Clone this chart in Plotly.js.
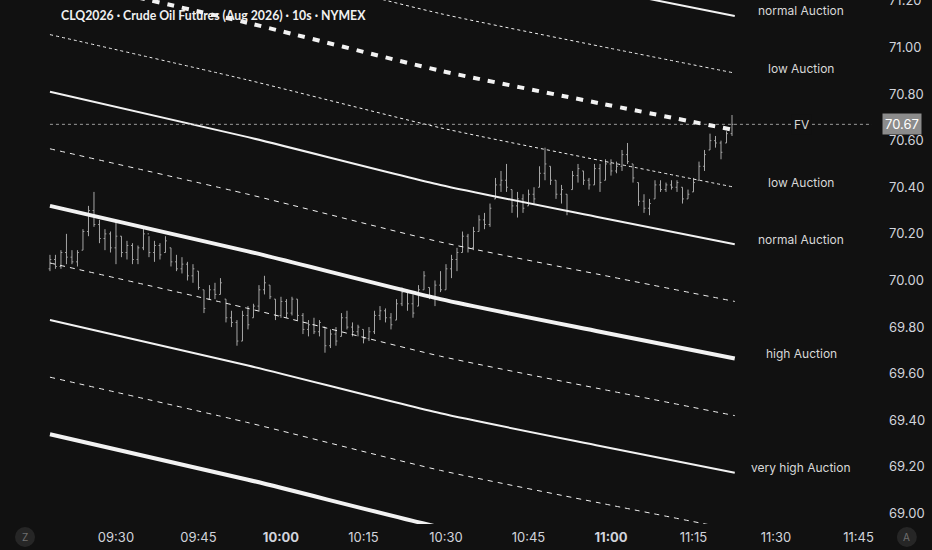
<!DOCTYPE html>
<html>
<head>
<meta charset="utf-8">
<script src="https://cdn.plot.ly/plotly-3.0.1.min.js"></script>
<style>
  html, body { margin: 0; padding: 0; background: #111111; }
  #chart { width: 932px; height: 550px; }
</style>
</head>
<body>
<div id="chart"></div>
<script>
const day = '2026-07-14 ';
const firstBar = '09:18';   // premiere barre affichee, barres d'une minute

const opens = [
  70.05, 70.09, 70.06, 70.12, 70.10, 70.08, 70.13, 70.21, 70.30, 70.24,
  70.18, 70.20, 70.14, 70.19, 70.12, 70.15, 70.09, 70.14, 70.20, 70.12,
  70.15, 70.12, 70.14, 70.08, 70.05, 70.07, 70.02, 70.04, 69.96, 69.92,
  69.96, 69.94, 69.92, 69.84, 69.82, 69.74, 69.85, 69.84, 69.89, 69.96,
  69.98, 69.92, 69.85, 69.91, 69.86, 69.92, 69.85, 69.79, 69.81, 69.78,
  69.80, 69.72, 69.77, 69.76, 69.84, 69.80, 69.78, 69.79, 69.75, 69.78,
  69.85, 69.87, 69.84, 69.83, 69.90, 69.95, 69.90, 69.89, 69.96, 69.97,
  69.93, 69.98, 69.96, 70.05, 70.09, 70.12, 70.19, 70.14, 70.21, 70.26,
  70.24, 70.35, 70.41, 70.43, 70.39, 70.32, 70.35, 70.32, 70.37, 70.40,
  70.46, 70.49, 70.43, 70.37, 70.37, 70.39, 70.45, 70.47, 70.43, 70.41,
  70.48, 70.43, 70.50, 70.47, 70.49, 70.54, 70.50, 70.42, 70.34, 70.31,
  70.35, 70.41, 70.39, 70.41, 70.40, 70.40, 70.35, 70.38, 70.43, 70.49,
  70.56, 70.60, 70.59, 70.59, 70.63
];
const highs = [
  70.11, 70.11, 70.13, 70.20, 70.13, 70.13, 70.22, 70.32, 70.38, 70.26,
  70.22, 70.21, 70.25, 70.19, 70.17, 70.16, 70.15, 70.23, 70.19, 70.17,
  70.16, 70.19, 70.14, 70.11, 70.10, 70.08, 70.07, 70.04, 69.96, 69.98,
  69.99, 70.01, 69.92, 69.87, 69.83, 69.87, 69.89, 69.90, 69.98, 70.02,
  69.98, 69.92, 69.93, 69.92, 69.93, 69.92, 69.86, 69.83, 69.84, 69.83,
  69.80, 69.79, 69.80, 69.86, 69.87, 69.82, 69.81, 69.79, 69.80, 69.87,
  69.89, 69.88, 69.86, 69.92, 69.97, 69.96, 69.94, 69.98, 70.04, 69.97,
  70.00, 70.04, 70.07, 70.11, 70.14, 70.21, 70.20, 70.23, 70.28, 70.29,
  70.33, 70.44, 70.47, 70.50, 70.39, 70.38, 70.37, 70.39, 70.40, 70.49,
  70.57, 70.49, 70.43, 70.41, 70.37, 70.47, 70.50, 70.47, 70.44, 70.50,
  70.50, 70.52, 70.52, 70.51, 70.56, 70.59, 70.50, 70.42, 70.37, 70.35,
  70.43, 70.43, 70.42, 70.43, 70.43, 70.40, 70.39, 70.44, 70.51, 70.56,
  70.63, 70.62, 70.60, 70.64, 70.71
];
const lows = [
  70.04, 70.05, 70.05, 70.07, 70.07, 70.06, 70.13, 70.19, 70.23, 70.16,
  70.13, 70.12, 70.07, 70.10, 70.09, 70.07, 70.07, 70.13, 70.10, 70.08,
  70.09, 70.12, 70.06, 70.04, 70.03, 70.00, 69.99, 69.96, 69.86, 69.92,
  69.92, 69.94, 69.82, 69.80, 69.72, 69.74, 69.79, 69.84, 69.87, 69.94,
  69.92, 69.83, 69.84, 69.84, 69.85, 69.83, 69.77, 69.76, 69.77, 69.76,
  69.69, 69.71, 69.72, 69.76, 69.79, 69.76, 69.76, 69.73, 69.74, 69.77,
  69.83, 69.82, 69.79, 69.83, 69.89, 69.87, 69.84, 69.89, 69.96, 69.92,
  69.89, 69.95, 69.96, 70.01, 70.04, 70.12, 70.12, 70.13, 70.21, 70.22,
  70.23, 70.35, 70.38, 70.38, 70.29, 70.27, 70.29, 70.32, 70.33, 70.40,
  70.43, 70.41, 70.35, 70.33, 70.28, 70.39, 70.42, 70.41, 70.39, 70.41,
  70.38, 70.43, 70.45, 70.46, 70.47, 70.50, 70.42, 70.32, 70.29, 70.28,
  70.35, 70.38, 70.38, 70.39, 70.38, 70.33, 70.35, 70.38, 70.43, 70.47,
  70.56, 70.57, 70.52, 70.59, 70.62
];
const closes = [
  70.09, 70.06, 70.12, 70.10, 70.08, 70.12, 70.21, 70.30, 70.24, 70.18,
  70.20, 70.14, 70.19, 70.12, 70.15, 70.09, 70.14, 70.20, 70.12, 70.15,
  70.11, 70.17, 70.08, 70.05, 70.07, 70.02, 70.05, 69.97, 69.88, 69.96,
  69.94, 69.99, 69.84, 69.82, 69.74, 69.85, 69.81, 69.89, 69.96, 69.99,
  69.93, 69.85, 69.91, 69.86, 69.92, 69.85, 69.79, 69.81, 69.78, 69.82,
  69.72, 69.77, 69.74, 69.84, 69.80, 69.78, 69.80, 69.75, 69.78, 69.85,
  69.87, 69.84, 69.81, 69.90, 69.95, 69.90, 69.86, 69.96, 70.02, 69.93,
  69.98, 69.96, 70.05, 70.09, 70.12, 70.19, 70.14, 70.21, 70.26, 70.24,
  70.31, 70.41, 70.43, 70.40, 70.32, 70.35, 70.31, 70.37, 70.35, 70.46,
  70.50, 70.43, 70.37, 70.39, 70.30, 70.45, 70.48, 70.43, 70.41, 70.48,
  70.42, 70.50, 70.47, 70.49, 70.54, 70.51, 70.44, 70.34, 70.31, 70.33,
  70.41, 70.39, 70.41, 70.40, 70.42, 70.35, 70.37, 70.42, 70.49, 70.54,
  70.60, 70.59, 70.55, 70.63, 70.67
];

// bandes d'enchere : points
const bandTimes = ['09:18:00', '09:54:00', '10:29:00', '10:58:00', '11:22:30'];
const bandUp2 = [71.79, 71.595, 71.39, 71.25, 71.135];
const bandUp1 = [71.545, 71.35, 71.145, 71.005, 70.89];
const fvLine = [71.30, 71.105, 70.90, 70.76, 70.645];
const bandDn1 = [71.055, 70.86, 70.655, 70.515, 70.40];
const bandDn2 = [70.81, 70.615, 70.41, 70.27, 70.155];
const bandDn3 = [70.565, 70.37, 70.165, 70.025, 69.91];
const bandDn4 = [70.32, 70.125, 69.92, 69.78, 69.665];
const bandDn5 = [70.075, 69.88, 69.675, 69.535, 69.42];
const bandDn6 = [69.83, 69.635, 69.43, 69.29, 69.175];
const bandDn7 = [69.585, 69.39, 69.185, 69.045, 68.93];
const bandDn8 = [69.34, 69.145, 68.94, 68.80, 68.685];

const xTicks = ['09:30', '09:45', '10:00', '10:15', '10:30', '10:45', '11:00', '11:15', '11:30', '11:45'];
const yTicks = [69.00, 69.20, 69.40, 69.60, 69.80, 70.00, 70.20, 70.40, 70.60, 70.80, 71.00, 71.20];

const title = 'CLQ2026 · Crude Oil Futures (Aug 2026) · 10s · NYMEX';

//heures des barres
var pad = function(n) { return (n < 10 ? '0' : '') + n; };
var times = [];
var startMin = parseInt(firstBar.split(':')[0]) * 60 + parseInt(firstBar.split(':')[1]);
for (let i = 0; i < closes.length; i++) {
  var m = startMin + i;
  times.push(day + pad(Math.floor(m / 60)) + ':' + pad(m % 60) + ':00');
}
var bx = bandTimes.map(function(t) { return day + t; });

var white = '#f2f2f2';
var band = function(y, width, dash) {
  return {
    x: bx, y: y, type: 'scatter', mode: 'lines', hoverinfo: 'skip',
    line: { color: white, width: width, dash: dash, shape: 'spline', smoothing: 0.6 }
  };
};

var last = closes[closes.length - 1];
var rightEnd = day + '11:47:27';

var data = [
  band(bandUp2, 2, 'solid'),
  band(bandUp1, 1, 'dot'),
  band(bandDn1, 1, 'dot'),
  band(bandDn2, 2, 'solid'),
  band(bandDn3, 1, '5px,5px'),
  band(bandDn4, 4, 'solid'),
  band(bandDn5, 1, '5px,5px'),
  band(bandDn6, 2, 'solid'),
  band(bandDn7, 1, '5px,5px'),
  band(bandDn8, 4, 'solid'),
  {
    x: [times[0], rightEnd], y: [last, last], type: 'scatter', mode: 'lines',
    hoverinfo: 'skip', line: { color: '#9a9a9a', width: 1, dash: 'dot' }
  },
  {
    x: times, open: opens, high: highs, low: lows, close: closes,
    type: 'ohlc', hoverinfo: 'skip', tickwidth: 0.25,
    increasing: { line: { color: '#a6a6a6', width: 1 } },
    decreasing: { line: { color: '#a6a6a6', width: 1 } }
  },
  band(fvLine, 4, '7px,8px')
];

var lbl = function(text, y, shift, bg) {
  return {
    xref: 'paper', yref: 'y', x: 0.919, y: y, yshift: shift,
    xanchor: 'center', yanchor: 'middle', showarrow: false, text: text,
    bgcolor: bg || 'rgba(0,0,0,0)', borderpad: 2,
    font: { family: 'Inter, sans-serif', size: 12, color: '#d8d8d8' }
  };
};

var annotations = [
  {
    xref: 'paper', yref: 'paper', x: 0.0677, y: 0.971, xanchor: 'left', yanchor: 'middle',
    showarrow: false, text: '<b>' + title + '</b>',
    font: { family: 'Lato, sans-serif', size: 12.3, color: '#f0f0f0' }
  },
  lbl('normal Auction', bandUp2[4], 5),
  lbl('low Auction', bandUp1[4], 5),
  lbl('FV', last, 0, '#111111'),
  lbl('low Auction', bandDn1[4], 5),
  lbl('normal Auction', bandDn2[4], 5),
  lbl('high Auction', bandDn4[4], 5),
  lbl('very high Auction', bandDn6[4], 5),
  {
    xref: 'paper', yref: 'y', x: 1, xshift: 10, y: last, xanchor: 'left', yanchor: 'middle',
    showarrow: false, text: last.toFixed(2), bgcolor: '#8c8c8c', borderpad: 2,
    font: { family: 'Inter, sans-serif', size: 13, color: '#ffffff' }
  },
  {
    xref: 'paper', yref: 'paper', x: 0.0287, y: -0.0248, xanchor: 'center', yanchor: 'middle',
    showarrow: false, text: 'Z',
    font: { family: 'Inter, sans-serif', size: 10, color: '#6f6f6f' }
  },
  {
    xref: 'paper', yref: 'paper', x: 1.040, y: -0.0248, xanchor: 'center', yanchor: 'middle',
    showarrow: false, text: 'A',
    font: { family: 'Inter, sans-serif', size: 10, color: '#6f6f6f' }
  }
];

var circle = function(px) {
  return {
    type: 'circle', xref: 'paper', yref: 'paper', xsizemode: 'pixel', ysizemode: 'pixel',
    xanchor: px, yanchor: -0.0248, x0: -10, x1: 10, y0: -10, y1: 10,
    fillcolor: '#262626', line: { width: 0 }, layer: 'below'
  };
};

var layout = {
  width: 932,
  height: 550,
  margin: { l: 0, r: 60, t: 0, b: 26 },
  paper_bgcolor: '#111111',
  plot_bgcolor: '#111111',
  showlegend: false,
  font: { family: 'Inter, sans-serif', color: '#d1d4dc' },
  xaxis: {
    type: 'date',
    range: [day + '09:08:55', rightEnd],
    rangeslider: { visible: false },
    showgrid: false, zeroline: false, showline: false, ticks: '',
    tickvals: xTicks.map(function(t) { return day + t; }),
    ticktext: xTicks.map(function(t) { return t.slice(3) === '00' ? '<b>' + t + '</b>' : t; }),
    ticklabelstandoff: 4,
    tickfont: { size: 13, color: '#d1d4dc' }
  },
  yaxis: {
    side: 'right',
    range: [68.955, 71.2035],
    showgrid: false, zeroline: false, showline: false, ticks: '',
    tickvals: yTicks,
    tickformat: '.2f',
    ticklabelstandoff: 16,
    ticklabeloverflow: 'allow',
    tickfont: { size: 13, color: '#d1d4dc' }
  },
  annotations: annotations,
  shapes: [circle(0.0287), circle(1.040)]
};

Plotly.newPlot('chart', data, layout, { displayModeBar: false, staticPlot: true });
</script>
</body>
</html>
